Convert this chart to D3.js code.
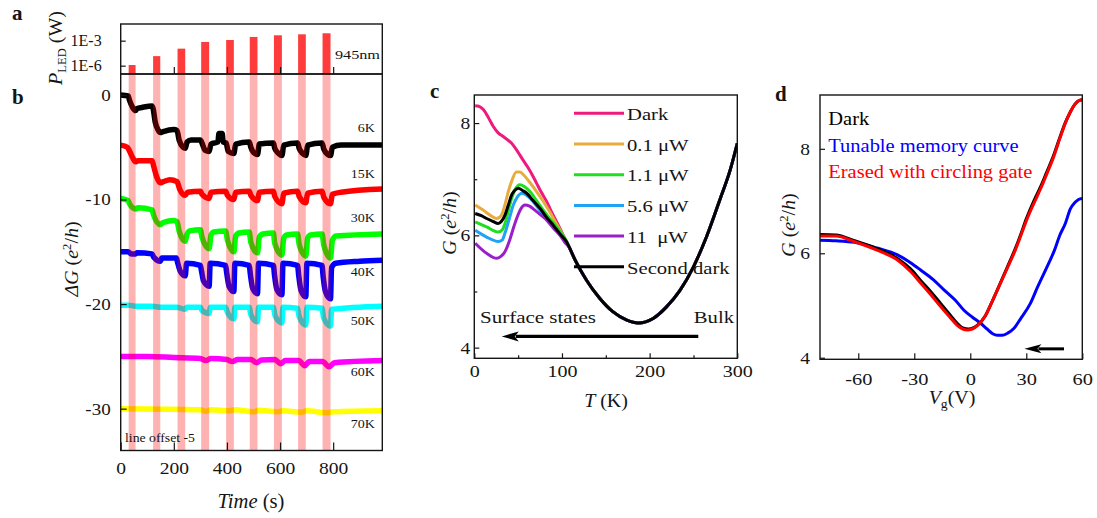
<!DOCTYPE html>
<html><head><meta charset="utf-8">
<script src="https://cdn.jsdelivr.net/npm/d3@7"></script>
<style>
body{margin:0;background:#fff}
svg{display:block}
text{font-family:'Liberation Serif','Times New Roman',serif;fill:#151515}
</style>
</head><body>
<svg id="fig" width="1097" height="518" font-family="Liberation Serif, Times New Roman, serif"></svg>
<script>
// ---------- panel a/b : LED pulses ----------
const pulseStart = [30, 122, 214, 303, 397, 486, 577, 668, 760];   // s
const pulseEnd   = [56, 149, 243, 333, 426, 515, 607, 697, 790];   // s
const ledPower   = [1.2e-6, 1.4e-5, 1.1e-4, 7e-4, 1.2e-3, 2.8e-3, 4.4e-3, 5.8e-3, 7.7e-3]; // W
const powerTicks = [1e-3, 1e-6];
const powerTickLabels = ["1E-3", "1E-6"];
const timeTicks = [0, 200, 400, 600, 800];
const dGTicks = [0, -10, -20, -30];

// ---------- panel b : conductance change traces [time s, ΔG e²/h] (offset -5 per line) ----------
const trace6K = [[0,0],[28,-0.1],[33,-0.5],[45,-1.2],[56,-1.5],[62,-1.3],[80,-1.2],[118,-1.05],[122,-1.3],[130,-2.6],[140,-3.3],[149,-3.6],[160,-3.5],[200,-3.3],[212,-3.4],[220,-4.3],[235,-5.0],[243,-5.1],[250,-4.5],[265,-4.3],[300,-4.3],[306,-4.6],[318,-5.3],[333,-5.4],[340,-4.7],[366,-4.5],[370,-3.7],[382,-3.7],[386,-4.5],[397,-4.6],[405,-5.4],[426,-5.6],[433,-4.7],[484,-4.5],[490,-5.0],[500,-5.5],[515,-5.7],[522,-4.7],[575,-4.6],[580,-5.1],[595,-5.6],[607,-5.8],[614,-4.8],[666,-4.6],[672,-5.1],[685,-5.6],[697,-5.8],[704,-4.8],[758,-4.6],[765,-5.2],[780,-5.7],[790,-5.8],[797,-5.0],[830,-4.8],[985,-4.8]];
const trace15K = [[0,-4.8],[25,-5.0],[32,-5.3],[45,-6.0],[56,-6.4],[65,-6.3],[118,-6.3],[124,-6.8],[135,-7.8],[149,-8.4],[160,-8.3],[185,-8.1],[212,-8.3],[222,-9.0],[243,-9.6],[252,-9.3],[300,-9.2],[306,-9.5],[333,-9.9],[340,-9.3],[395,-9.2],[402,-9.6],[426,-10.0],[433,-9.3],[484,-9.2],[490,-9.6],[515,-10.1],[522,-9.3],[575,-9.2],[580,-9.7],[607,-10.4],[614,-9.4],[666,-9.2],[672,-9.7],[697,-10.3],[704,-9.4],[758,-9.2],[765,-9.8],[790,-10.4],[797,-9.5],[830,-9.3],[985,-9.0]];
const trace30K = [[0,-9.9],[28,-10.1],[33,-10.4],[56,-10.9],[65,-10.8],[118,-11.0],[124,-11.5],[149,-12.4],[160,-12.2],[200,-12.0],[212,-12.1],[220,-13.0],[243,-14.0],[250,-13.3],[260,-13.0],[300,-12.9],[306,-13.6],[333,-14.7],[340,-13.4],[350,-13.1],[395,-13.0],[402,-13.9],[426,-15.0],[433,-13.5],[445,-13.2],[484,-13.1],[490,-14.1],[515,-15.1],[522,-13.6],[535,-13.3],[575,-13.2],[580,-14.2],[607,-15.3],[614,-13.7],[625,-13.4],[666,-13.3],[672,-14.3],[697,-15.4],[704,-13.7],[715,-13.4],[758,-13.3],[765,-14.4],[790,-15.6],[797,-13.9],[810,-13.5],[985,-13.3]];
const trace40K = [[0,-15.0],[28,-15.0],[40,-15.2],[56,-15.2],[62,-15.1],[118,-15.2],[124,-15.5],[149,-15.9],[155,-15.6],[210,-15.6],[214,-16.0],[225,-16.9],[243,-17.3],[248,-16.1],[300,-16.3],[304,-16.8],[312,-17.8],[333,-18.3],[337,-16.1],[395,-16.3],[399,-17.0],[408,-18.3],[426,-18.8],[430,-16.1],[484,-16.3],[488,-17.1],[497,-18.5],[515,-19.0],[519,-16.1],[575,-16.3],[579,-17.2],[588,-18.6],[607,-19.1],[611,-16.1],[666,-16.3],[670,-17.2],[679,-18.7],[697,-19.3],[701,-16.1],[758,-16.3],[762,-17.3],[771,-18.8],[790,-19.5],[794,-16.5],[810,-16.1],[900,-15.9],[985,-15.8]];
const trace50K = [[0,-20.1],[28,-20.1],[56,-20.2],[118,-20.2],[149,-20.3],[210,-20.3],[243,-20.5],[248,-20.3],[300,-20.3],[306,-20.6],[333,-20.9],[337,-20.3],[395,-20.3],[402,-20.8],[426,-21.4],[430,-20.3],[484,-20.3],[490,-21.0],[515,-21.7],[519,-20.3],[575,-20.3],[581,-21.1],[607,-21.8],[611,-20.3],[666,-20.4],[672,-21.2],[697,-22.0],[701,-20.3],[758,-20.4],[764,-21.3],[790,-22.1],[794,-20.5],[985,-20.2]];
const trace60K = [[0,-25.0],[100,-25.0],[200,-25.1],[300,-25.2],[320,-25.4],[340,-25.2],[400,-25.3],[420,-25.5],[440,-25.3],[490,-25.3],[512,-25.6],[530,-25.35],[580,-25.3],[603,-25.7],[620,-25.4],[670,-25.4],[693,-25.9],[710,-25.5],[760,-25.5],[785,-26.0],[805,-25.6],[985,-25.4]];
const trace70K = [[0,-30.0],[300,-30.1],[320,-30.25],[340,-30.1],[410,-30.2],[430,-30.1],[500,-30.3],[520,-30.15],[590,-30.3],[610,-30.2],[680,-30.35],[700,-30.2],[775,-30.4],[800,-30.3],[985,-30.2]];
const tempLabels = ["6K", "15K", "30K", "40K", "50K", "60K", "70K"];
const tempLabelLevels = [-3.5, -7.95, -12.15, -17.35, -22.0, -26.85, -31.85];
const traceColors = ["#000000", "#ff0000", "#00ff00", "#0000ff", "#00ffff", "#ff00ff", "#ffff00"];

// ---------- panel c : G(T) [T K, G e²/h] ----------
const cTail = [[115,5.56],[128,5.2],[143,4.88],[158,4.64],[174,4.49],[187,4.44],[204,4.52],[219.5,4.73],[234.6,5.02],[250,5.44],[265,5.98],[280,6.63],[292,7.17],[300,7.64]];
const cDark = [[1,8.31],[5,8.3],[10.3,8.24],[16,8.1],[21.7,7.94],[27,7.83],[33,7.76],[38,7.7],[42.6,7.64],[47,7.55],[52,7.43],[56,7.33],[61.6,7.2],[66,7.08],[71,6.93],[76,6.78],[82.6,6.6],[88,6.42],[94,6.24],[100,6.05],[105,5.89]];
const c01uW = [[1,6.54],[10,6.45],[18,6.36],[25.5,6.3],[31,6.36],[35,6.55],[38.8,6.78],[43,6.98],[48,7.13],[52,7.13],[56,7.08],[63,6.95],[71,6.78],[78,6.62],[86,6.42],[95,6.17],[105,5.9]];
const c11uW = [[1,6.24],[14,6.15],[27.4,6.06],[32,6.1],[35,6.21],[39,6.45],[42.6,6.66],[47,6.83],[52,6.9],[57,6.87],[63.5,6.78],[71,6.62],[78.7,6.45],[86,6.3],[94,6.15],[105,5.9]];
const c56uW = [[1,6.09],[14,5.97],[27.4,5.89],[32,5.92],[35,6.04],[40,6.3],[44.5,6.54],[49,6.68],[54,6.75],[59,6.72],[65.5,6.63],[73,6.48],[80.6,6.33],[88,6.2],[95.7,6.06],[105,5.88]];
const c11uWb = [[1,5.86],[14,5.68],[25.5,5.59],[30,5.62],[35,5.71],[40,5.9],[44,6.1],[48.3,6.3],[53,6.47],[57.8,6.54],[63,6.52],[69,6.45],[76,6.36],[82.6,6.27],[90,6.13],[97.7,6.0],[103,5.88],[109,5.77]];
const cDark2 = [[1,6.39],[8,6.35],[14,6.3],[21,6.25],[27.4,6.21],[31,6.25],[35,6.36],[39,6.55],[42.6,6.72],[46,6.8],[50.2,6.84],[55,6.8],[59.8,6.75],[67,6.62],[75,6.48],[82,6.33],[90,6.18],[97,6.04],[105,5.89]];
const cNames  = ["Dark", "0.1 \u03bcW", "1.1 \u03bcW", "5.6 \u03bcW", "11  \u03bcW", "Second dark"];
const cColors = ["#ee1a7e", "#e8ac3c", "#1ede1e", "#1fa3f5", "#9b1fc9", "#000000"];
const cTicksMajor = [0, 100, 200, 300];
const cTicksMinor = [50, 150, 250];
const cYMajor = [4, 6, 8];
const cYMinor = [5, 7];
const cArrow = [[255.5, 4.2], [31.3, 4.2]];

// ---------- panel d : G(Vg) [Vg V, G e²/h] ----------
const dDark = [[-80.5,6.36],[-72,6.35],[-62,6.24],[-50,6.09],[-39,5.9],[-32,5.7],[-26.6,5.48],[-21,5.26],[-15.9,5.04],[-11,4.83],[-7,4.66],[-4,4.57],[-1,4.55],[1.5,4.57],[4,4.63],[8,4.8],[12,5.1],[16.2,5.44],[20,5.75],[24,6.08],[26.9,6.35],[30,6.66],[34,7.0],[37.6,7.27],[41,7.56],[44.7,7.88],[48,8.22],[50.9,8.5],[53.5,8.7],[56,8.85],[58,8.92],[60,8.94]];
const dMemory = [[-80.5,6.25],[-72,6.24],[-62,6.21],[-50,6.1],[-39,5.97],[-32,5.82],[-26.6,5.68],[-20,5.5],[-14.1,5.3],[-8,5.1],[-3.4,4.91],[1,4.78],[5.5,4.66],[9,4.55],[12,4.46],[14.4,4.43],[17,4.43],[20,4.47],[23.3,4.56],[27,4.75],[32.2,5.04],[36,5.35],[41.1,5.74],[45,6.05],[48,6.35],[50.9,6.57],[53.6,6.85],[56,6.97],[58,7.03],[60,7.05]];
const dErased = [[-80.5,6.33],[-72,6.33],[-62,6.22],[-50,6.06],[-39,5.87],[-32,5.65],[-26.6,5.43],[-21,5.2],[-15.9,4.98],[-11,4.78],[-7,4.62],[-4,4.55],[-1.6,4.53],[1,4.55],[4,4.62],[8,4.8],[12,5.1],[16.2,5.43],[20,5.73],[24,6.05],[26.9,6.32],[30,6.62],[34,6.95],[37.6,7.23],[41,7.52],[44.7,7.85],[48,8.2],[50.9,8.49],[53.5,8.7],[56,8.85],[58,8.92],[60,8.94]];
const dNames  = ["Dark", "Tunable memory curve", "Erased with circling gate"];
const dColors = ["#000000", "#0000ff", "#ff0000"];
const dXTicks = [-60, -30, 0, 30, 60];
const dYTicks = [4, 6, 8];
const dArrow = [[50.2, 4.17], [29, 4.17]];

// ---------- drawing ----------
const svg = d3.select("#fig");
const FONT = "Liberation Serif, Times New Roman, serif";
const INK = "#151515";
const plain = d => String(d);   // ASCII hyphen for negatives

function txt(g, x, y, str, o = {}) {
  const t = g.append("text")
    .attr("transform", `translate(${x},${y})` + (o.rotate ? ` rotate(${o.rotate})` : "") + ` scale(${o.sx || 1},1)`)
    .attr("text-anchor", o.anchor || "start")
    .attr("font-family", FONT)
    .attr("font-size", o.size || 17)
    .attr("font-weight", o.weight || "normal")
    .style("fill", o.fill || INK)
    .style("white-space", "pre");
  if (str !== null) t.text(str);
  return t;
}
function span(t, s, o = {}) {
  const sp = t.append("tspan").text(s);
  if (o.italic) sp.attr("font-style", "italic");
  if (o.size) sp.attr("font-size", o.size);
  if (o.dy) sp.attr("dy", o.dy);
  return sp;
}
function finishAxis(sel, sx, size, side) {
  sel.attr("font-family", FONT);
  sel.select(".domain").remove();
  sel.selectAll("line").attr("stroke", INK).attr("stroke-width", 1.2);
  sel.selectAll("text").attr("font-size", size).attr("font-family", FONT).style("fill", INK)
    .each(function () {
      const t = d3.select(this);
      if (side === "left") t.attr("x", +t.attr("x") / sx);
      t.attr("transform", `scale(${sx},1)`);
    });
}
function frame(x0, y0, x1, y1) {
  svg.append("rect").attr("x", x0).attr("y", y0).attr("width", x1 - x0).attr("height", y1 - y0)
    .attr("fill", "none").attr("stroke", INK).attr("stroke-width", 1.4);
}
function clip(id, x0, y0, x1, y1) {
  svg.append("clipPath").attr("id", id).append("rect")
    .attr("x", x0).attr("y", y0).attr("width", x1 - x0).attr("height", y1 - y0);
}
function conductanceLabel(x, y, lead) {
  const t = txt(svg, x, y, null, { rotate: -90, anchor: "middle", size: 19, sx: 1.05 });
  span(t, lead, { italic: true });
  span(t, " (");
  span(t, "e", { italic: true });
  span(t, "2", { size: 12, dy: -7 });
  span(t, "/", { dy: 7 });
  span(t, "h", { italic: true });
  span(t, ")");
}

// scales
const xB = d3.scaleLinear().domain([0, 985]).range([120.7, 382.3]);
const yA = d3.scaleLog().domain([1e-7, 1e-1]).range([74, 24]);
const yB = d3.scaleLinear().domain([-34, 2]).range([450.5, 74]);
const xC = d3.scaleLinear().domain([0, 300]).range([474.3, 737.3]);
const yC = d3.scaleLinear().domain([3.81, 8.5]).range([358.3, 95]);
const xD = d3.scaleLinear().domain([-80.5, 60]).range([820, 1082.3]);
const yD = d3.scaleLinear().domain([3.97, 9.03]).range([359.3, 95]);

// ===== panel a =====
clip("clipA", 120.7, 24, 382.3, 74);
svg.append("g").attr("clip-path", "url(#clipA)").selectAll("rect").data(ledPower).join("rect")
  .attr("x", (d, i) => xB(pulseStart[i]))
  .attr("width", (d, i) => xB(pulseEnd[i]) - xB(pulseStart[i]))
  .attr("y", d => yA(d))
  .attr("height", d => yA(1e-7) - yA(d))
  .attr("fill", "#ff3c3c");
svg.append("g").attr("transform", "translate(120.7,0)")
  .call(d3.axisLeft(yA).tickValues(powerTicks).tickFormat((d, i) => powerTickLabels[i])
    .tickSizeInner(-5).tickSizeOuter(0).tickPadding(19))
  .call(s => finishAxis(s, 1.0, 16, "left"));
svg.append("g").attr("transform", "translate(0,74)")
  .call(d3.axisBottom(xB).tickValues([200, 400, 600, 800]).tickFormat("").tickSizeInner(-7).tickSizeOuter(0))
  .call(s => finishAxis(s, 1, 16, "bottom"));
txt(svg, 380, 58.5, "945nm", { size: 13, sx: 1.25, anchor: "end" });
frame(120.7, 24, 382.3, 74);
{
  const t = txt(svg, 62, 48, null, { rotate: -90, anchor: "middle", size: 19, sx: 1.05 });
  span(t, "P", { italic: true });
  span(t, "LED", { size: 12, dy: 4 });
  span(t, " (W)", { dy: -4 });
}

// ===== panel b =====
clip("clipB", 120.7, 74, 382.3, 450.5);
const lineB = d3.line().x(d => xB(d[0])).y(d => yB(d[1])).curve(d3.curveMonotoneX);
const gB = svg.append("g").attr("clip-path", "url(#clipB)");
const traces = [trace6K, trace15K, trace30K, trace40K, trace50K, trace60K, trace70K];
gB.selectAll("path.trace").data(traces).join("path").attr("class", "trace")
  .attr("d", lineB).attr("fill", "none")
  .attr("stroke", (d, i) => traceColors[i]).attr("stroke-width", 5.5)
  .attr("stroke-linejoin", "round");
gB.selectAll("rect.pulse").data(pulseStart).join("rect").attr("class", "pulse")
  .attr("x", d => xB(d))
  .attr("width", (d, i) => xB(pulseEnd[i]) - xB(d))
  .attr("y", 74).attr("height", 450.5 - 74)
  .attr("fill", "#ff0000").attr("opacity", 0.3);
svg.append("g").attr("transform", "translate(120.7,0)")
  .call(d3.axisLeft(yB).tickValues(dGTicks).tickFormat(plain)
    .tickSizeInner(-6).tickSizeOuter(0).tickPadding(10))
  .call(s => finishAxis(s, 1.12, 17, "left"));
svg.append("g").attr("transform", "translate(0,450.5)")
  .call(d3.axisBottom(xB).tickValues(timeTicks).tickFormat(plain).tickSizeInner(-8).tickSizeOuter(0).tickPadding(11))
  .call(s => finishAxis(s, 1.15, 17, "bottom"));
frame(120.7, 74, 382.3, 450.5);
tempLabels.forEach((s, i) => txt(svg, 375, yB(tempLabelLevels[i]), s, { size: 13, sx: 1.08, anchor: "end" }));
txt(svg, 125, 441.7, "line offset -5", { size: 12.5, sx: 1.1 });
{
  const t = txt(svg, 251, 508, null, { anchor: "middle", size: 20, sx: 1.03 });
  span(t, "Time", { italic: true });
  span(t, " (s)");
}
conductanceLabel(78, 259, "\u0394G");

// ===== panel c =====
clip("clipC", 474.3, 95, 737.3, 358.3);
const lineC = d3.line().x(d => xC(d[0])).y(d => yC(d[1])).curve(d3.curveMonotoneX);
const cSeries = [cDark, c01uW, c11uW, c56uW, c11uWb, cDark2].map(h => h.concat(cTail));
svg.append("g").attr("clip-path", "url(#clipC)").selectAll("path").data(cSeries).join("path")
  .attr("d", lineC).attr("fill", "none")
  .attr("stroke", (d, i) => cColors[i]).attr("stroke-width", 3).attr("stroke-linejoin", "round");
svg.append("g").attr("transform", "translate(474.3,0)")
  .call(d3.axisLeft(yC).tickValues(cYMajor).tickFormat(plain).tickSizeInner(-5).tickSizeOuter(0).tickPadding(4))
  .call(s => finishAxis(s, 1.15, 17, "left"));
svg.append("g").attr("transform", "translate(474.3,0)")
  .call(d3.axisLeft(yC).tickValues(cYMinor).tickFormat("").tickSizeInner(-3).tickSizeOuter(0))
  .call(s => finishAxis(s, 1, 17, "left"));
svg.append("g").attr("transform", "translate(0,358.3)")
  .call(d3.axisBottom(xC).tickValues(cTicksMajor).tickFormat(plain).tickSizeInner(-5).tickSizeOuter(0).tickPadding(7))
  .call(s => finishAxis(s, 1.18, 17, "bottom"));
svg.append("g").attr("transform", "translate(0,358.3)")
  .call(d3.axisBottom(xC).tickValues(cTicksMinor).tickFormat("").tickSizeInner(-3).tickSizeOuter(0))
  .call(s => finishAxis(s, 1, 17, "bottom"));
frame(474.3, 95, 737.3, 358.3);
// legend
cNames.forEach((s, i) => {
  const y = 113.3 + i * 30.7;
  svg.append("line").attr("x1", 574).attr("x2", 624).attr("y1", y).attr("y2", y)
    .attr("stroke", cColors[i]).attr("stroke-width", 3);
  txt(svg, 627, y + 6.7, s, { size: 17.5, sx: 1.18 });
});
// arrow from bulk to surface states
{
  const [a, b] = cArrow;
  const x0 = xC(a[0]), x1 = xC(b[0]), y = yC(a[1]);
  svg.append("line").attr("x1", x0).attr("x2", x1 + 14).attr("y1", y).attr("y2", y)
    .attr("stroke", "#000").attr("stroke-width", 3.2);
  svg.append("path").attr("d", `M${x1},${y}L${x1 + 17},${y - 5}L${x1 + 13},${y}L${x1 + 17},${y + 5}Z`).attr("fill", "#000");
}
txt(svg, 480, 323.3, "Surface states", { size: 17.5, sx: 1.2 });
txt(svg, 734, 323.3, "Bulk", { size: 17.5, sx: 1.18, anchor: "end" });
{
  const t = txt(svg, 606, 407, null, { anchor: "middle", size: 19, sx: 1.05 });
  span(t, "T", { italic: true });
  span(t, " (K)");
}
conductanceLabel(456, 223, "G");

// ===== panel d =====
clip("clipD", 820, 95, 1082.3, 359.3);
const lineD = d3.line().x(d => xD(d[0])).y(d => yD(d[1])).curve(d3.curveMonotoneX);
svg.append("g").attr("clip-path", "url(#clipD)").selectAll("path").data([dMemory, dDark, dErased]).join("path")
  .attr("d", lineD).attr("fill", "none")
  .attr("stroke", (d, i) => [dColors[1], dColors[0], dColors[2]][i]).attr("stroke-width", 3).attr("stroke-linejoin", "round");
svg.append("g").attr("transform", "translate(820,0)")
  .call(d3.axisLeft(yD).tickValues(dYTicks).tickFormat(plain).tickSizeInner(-5).tickSizeOuter(0).tickPadding(10))
  .call(s => finishAxis(s, 1.15, 17, "left"));
svg.append("g").attr("transform", "translate(0,359.3)")
  .call(d3.axisBottom(xD).tickValues(dXTicks).tickFormat(plain).tickSizeInner(-6).tickSizeOuter(0).tickPadding(13.5))
  .call(s => finishAxis(s, 1.2, 17, "bottom"));
frame(820, 95, 1082.3, 359.3);
dNames.forEach((s, i) => txt(svg, 828.3, 125 + i * 26.65, s, { size: 19.5, sx: 1.05, fill: dColors[i] }));
{
  const [a, b] = dArrow;
  const x0 = xD(a[0]), x1 = xD(b[0]), y = yD(a[1]);
  svg.append("line").attr("x1", x0).attr("x2", x1 + 14).attr("y1", y).attr("y2", y)
    .attr("stroke", "#000").attr("stroke-width", 3);
  svg.append("path").attr("d", `M${x1},${y}L${x1 + 17},${y - 4.5}L${x1 + 13},${y}L${x1 + 17},${y + 4.5}Z`).attr("fill", "#000");
}
{
  const t = txt(svg, 952, 404, null, { anchor: "middle", size: 19, sx: 1.05 });
  span(t, "V", { italic: true });
  span(t, "g", { size: 13, dy: 4 });
  span(t, "(V)", { dy: -4 });
}
conductanceLabel(795, 225, "G");

// panel letters
[["a", 12, 20], ["b", 12, 104], ["c", 430, 98], ["d", 775, 101]]
  .forEach(([s, x, y]) => txt(svg, x, y, s, { size: 21, weight: "bold" }));
</script>
</body></html>
